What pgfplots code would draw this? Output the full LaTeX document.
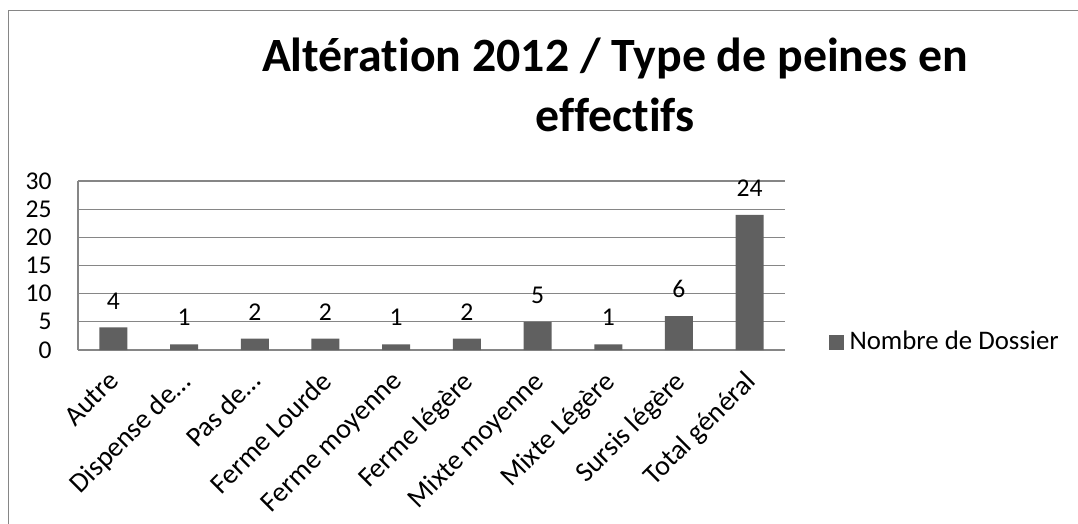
\documentclass[border=0pt]{standalone}
\usepackage{pgfplots}
\pgfplotsset{compat=1.18}
\usepackage{fontspec}
\setmainfont{Carlito}[Ligatures=NoCommon]
\definecolor{barc}{RGB}{96,96,96}
\definecolor{gridc}{RGB}{134,134,134}
\newcommand{\numfont}{\fontsize{12.8}{15}\selectfont}
\newcommand{\txtfont}{\fontsize{14}{16}\selectfont}
\begin{document}
\begin{tikzpicture}
% bounding box: 1078 x 524 px at 0.5pt per px
\path[use as bounding box] (0,0) rectangle (539pt,-262pt);
\draw[gridc, line width=0.6pt] (4.2pt,-262pt) -- (4.2pt,-5.3pt) -- (539pt,-5.3pt);
\node[anchor=base, font=\fontsize{23.9}{28}\selectfont\bfseries] at (307.5pt,-36pt) {Altération 2012 / Type de peines en};
\node[anchor=base, font=\fontsize{23.9}{28}\selectfont\bfseries] at (307.5pt,-66pt) {effectifs};
\begin{axis}[
  at={(39pt,-175pt)}, anchor=south west,
  scale only axis,
  width=353.5pt, height=84.5pt,
  ybar, bar width=14pt,
  xmin=-0.5, xmax=9.5,
  ymin=0, ymax=30,
  ytick={0,5,...,30},
  xtick=data,
  xticklabels={Autre, Dispense de…, Pas de…, Ferme Lourde, Ferme moyenne, Ferme légère, Mixte moyenne, Mixte Légère, Sursis légère, Total général},
  axis x line*=bottom, axis y line*=left,
  axis line style={gridc, line width=0.6pt, -},
  major tick length=0pt,
  ymajorgrids, grid style={gridc, line width=0.6pt},
  /pgf/number format/assume math mode=true,
  yticklabel style={font=\numfont, anchor=east, inner sep=0pt, xshift=-13pt},
  xticklabel style={font=\txtfont, xshift=-3pt, yshift=-9.5pt, rotate=45, anchor=north east, inner sep=0pt},
  nodes near coords,
  every node near coord/.append style={anchor=south, inner sep=0pt, yshift=9pt, black, font=\numfont},
  legend style={draw=none, fill=none, at={(1.061,0.047)}, anchor=west, inner sep=0pt,
    nodes={inner sep=0pt, anchor=west}, font=\fontsize{13.4}{16}\selectfont},
  legend image code/.code={\path[#1] (0pt,-3.75pt) rectangle (7.5pt,3.75pt); \path (10.5pt,0pt);},
]
\addplot[fill=barc, draw=none] coordinates {
(0,4) (1,1) (2,2) (3,2) (4,1) (5,2) (6,5) (7,1) (8,6) (9,24)
};
\addlegendentry{Nombre de Dossier}
\end{axis}
\end{tikzpicture}
\end{document}
